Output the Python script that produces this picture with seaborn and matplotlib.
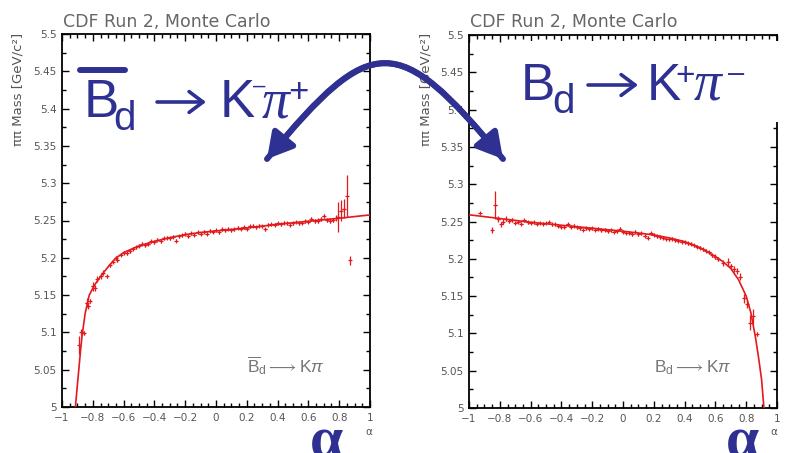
import matplotlib
matplotlib.use("Agg")
import matplotlib.pyplot as plt
import seaborn as sns
import pandas as pd
from matplotlib.ticker import MultipleLocator, FuncFormatter
from matplotlib.patches import FancyArrowPatch, Rectangle
from matplotlib.lines import Line2D
from matplotlib.path import Path

# ---------------- data ----------------
# left panel: anti-B_d -> K- pi+
left_x = [-0.89, -0.875, -0.86, -0.84, -0.83, -0.82, -0.80, -0.785, -0.77, -0.75, -0.735, -0.71,
          -0.69, -0.67, -0.65, -0.64, -0.62, -0.60, -0.58, -0.56, -0.54, -0.52, -0.50, -0.48,
          -0.46, -0.44, -0.42, -0.40, -0.38, -0.36, -0.34, -0.32, -0.30, -0.28, -0.26, -0.24,
          -0.22, -0.20, -0.18, -0.16, -0.14, -0.12, -0.10, -0.08, -0.06, -0.04, -0.02, 0.00,
          0.02, 0.04, 0.06, 0.08, 0.10, 0.12, 0.14, 0.16, 0.18, 0.20, 0.22, 0.24, 0.26, 0.28,
          0.30, 0.32, 0.34, 0.36, 0.38, 0.40, 0.42, 0.44, 0.46, 0.48, 0.50, 0.52, 0.54, 0.56,
          0.58, 0.60, 0.62, 0.64, 0.66, 0.68, 0.70, 0.72, 0.74, 0.76, 0.78, 0.79, 0.81, 0.83,
          0.85, 0.87]
left_y = [5.083, 5.100, 5.099, 5.140, 5.135, 5.142, 5.162, 5.160, 5.172, 5.175, 5.180, 5.175,
          5.190, 5.195, 5.200, 5.197, 5.204, 5.207, 5.206, 5.209, 5.212, 5.214, 5.216, 5.219,
          5.217, 5.219, 5.222, 5.221, 5.224, 5.222, 5.226, 5.227, 5.226, 5.228, 5.223, 5.229,
          5.230, 5.232, 5.229, 5.233, 5.231, 5.234, 5.232, 5.235, 5.232, 5.236, 5.235, 5.237,
          5.234, 5.238, 5.237, 5.239, 5.237, 5.238, 5.240, 5.239, 5.241, 5.239, 5.242, 5.243,
          5.241, 5.243, 5.242, 5.238, 5.244, 5.245, 5.244, 5.246, 5.245, 5.247, 5.246, 5.244,
          5.246, 5.248, 5.246, 5.247, 5.249, 5.248, 5.252, 5.249, 5.250, 5.252, 5.256, 5.251,
          5.250, 5.251, 5.254, 5.255, 5.263, 5.266, 5.283, 5.197]
left_err = [0.012, 0.004, 0.003, 0.006, 0.004, 0.003, 0.006, 0.004, 0.004, 0.004, 0.003, 0.002,
            0.002, 0.002, 0.003, 0.002, 0.002, 0.002, 0.002, 0.002, 0.002, 0.002, 0.002, 0.002,
            0.002, 0.002, 0.002, 0.002, 0.002, 0.002, 0.002, 0.002, 0.002, 0.002, 0.002, 0.002,
            0.002, 0.002, 0.002, 0.002, 0.002, 0.002, 0.002, 0.002, 0.002, 0.002, 0.002, 0.002,
            0.002, 0.002, 0.002, 0.002, 0.002, 0.002, 0.002, 0.002, 0.002, 0.002, 0.002, 0.002,
            0.002, 0.002, 0.002, 0.002, 0.002, 0.002, 0.002, 0.002, 0.002, 0.002, 0.002, 0.002,
            0.002, 0.002, 0.002, 0.002, 0.002, 0.002, 0.003, 0.003, 0.003, 0.003, 0.003, 0.003,
            0.003, 0.003, 0.004, 0.020, 0.014, 0.013, 0.028, 0.006]
left_fit_x = [-0.913, -0.90, -0.89, -0.88, -0.87, -0.85, -0.823, -0.79, -0.75, -0.70, -0.654,
              -0.60, -0.50, -0.40, -0.30, -0.20, -0.10, 0.00, 0.20, 0.40, 0.60, 0.80, 1.00]
left_fit_y = [5.000, 5.030, 5.052, 5.075, 5.095, 5.125, 5.150, 5.163, 5.175, 5.188, 5.199,
              5.207, 5.216, 5.222, 5.227, 5.231, 5.234, 5.236, 5.240, 5.245, 5.249, 5.253, 5.2575]

# right panel: B_d -> K+ pi-
right_x = [-0.93, -0.85, -0.83, -0.81, -0.79, -0.78, -0.76, -0.74, -0.72, -0.70, -0.68, -0.66,
           -0.64, -0.62, -0.60, -0.58, -0.56, -0.54, -0.52, -0.50, -0.48, -0.46, -0.44, -0.42,
           -0.40, -0.38, -0.36, -0.34, -0.32, -0.30, -0.28, -0.26, -0.24, -0.22, -0.20, -0.18,
           -0.16, -0.14, -0.12, -0.10, -0.08, -0.06, -0.04, -0.02, 0.00, 0.02, 0.04, 0.06,
           0.08, 0.10, 0.12, 0.14, 0.16, 0.18, 0.20, 0.22, 0.24, 0.26, 0.28, 0.30, 0.32, 0.34,
           0.36, 0.38, 0.40, 0.42, 0.44, 0.46, 0.48, 0.50, 0.52, 0.54, 0.56, 0.58, 0.60, 0.62,
           0.65, 0.685, 0.70, 0.718, 0.74, 0.761, 0.787, 0.805, 0.826, 0.844, 0.870]
right_y = [5.261, 5.239, 5.272, 5.253, 5.246, 5.250, 5.254, 5.251, 5.252, 5.248, 5.250, 5.247,
           5.252, 5.249, 5.248, 5.249, 5.247, 5.248, 5.247, 5.248, 5.249, 5.246, 5.246, 5.244,
           5.243, 5.243, 5.246, 5.243, 5.244, 5.242, 5.241, 5.239, 5.241, 5.240, 5.241, 5.239,
           5.240, 5.238, 5.239, 5.237, 5.238, 5.236, 5.237, 5.240, 5.236, 5.235, 5.235, 5.233,
           5.236, 5.233, 5.234, 5.231, 5.228, 5.234, 5.232, 5.230, 5.229, 5.228, 5.227, 5.226,
           5.227, 5.225, 5.224, 5.223, 5.222, 5.221, 5.220, 5.218, 5.216, 5.215, 5.213, 5.211,
           5.209, 5.205, 5.203, 5.200, 5.194, 5.196, 5.190, 5.186, 5.183, 5.176, 5.147, 5.139,
           5.114, 5.123, 5.099]
right_err = [0.001, 0.004, 0.019, 0.004, 0.004, 0.004, 0.003, 0.003, 0.003, 0.002, 0.002, 0.002,
             0.002, 0.002, 0.002, 0.002, 0.002, 0.002, 0.002, 0.002, 0.002, 0.002, 0.002, 0.002,
             0.002, 0.002, 0.002, 0.002, 0.002, 0.002, 0.002, 0.002, 0.002, 0.002, 0.002, 0.002,
             0.002, 0.002, 0.002, 0.002, 0.002, 0.002, 0.002, 0.002, 0.002, 0.002, 0.002, 0.002,
             0.002, 0.002, 0.002, 0.002, 0.002, 0.002, 0.002, 0.002, 0.002, 0.002, 0.002, 0.002,
             0.002, 0.002, 0.002, 0.002, 0.002, 0.002, 0.002, 0.002, 0.002, 0.002, 0.002, 0.002,
             0.002, 0.002, 0.003, 0.003, 0.004, 0.005, 0.003, 0.004, 0.004, 0.005, 0.006, 0.005,
             0.010, 0.010, 0.003]
right_fit_x = [-1.00, -0.80, -0.60, -0.40, -0.20, 0.00, 0.20, 0.30, 0.40, 0.50, 0.60, 0.65,
               0.70, 0.75, 0.80, 0.83, 0.86, 0.88, 0.90, 0.915]
right_fit_y = [5.259, 5.254, 5.249, 5.245, 5.241, 5.237, 5.232, 5.228, 5.223, 5.215, 5.203, 5.196,
               5.187, 5.172, 5.150, 5.128, 5.095, 5.068, 5.038, 5.000]

x_ticks = [-1, -0.8, -0.6, -0.4, -0.2, 0, 0.2, 0.4, 0.6, 0.8, 1]
y_ticks = [5, 5.05, 5.1, 5.15, 5.2, 5.25, 5.3, 5.35, 5.4, 5.45, 5.5]

title_text = "CDF Run 2, Monte Carlo"
ylabel_text = "\u03c0\u03c0 Mass [GeV/c\u00b2]"
small_left = r"$\overline{\mathrm{B}}_\mathrm{d}\longrightarrow\mathrm{K}\pi$"
small_right = r"$\mathrm{B}_\mathrm{d}\longrightarrow\mathrm{K}\pi$"

# ---------------- styling ----------------
sns.set_style("ticks")
plt.rcParams["font.family"] = ["DejaVu Sans"]
plt.rcParams["mathtext.fontset"] = "custom"
plt.rcParams["mathtext.rm"] = "Liberation Sans"
plt.rcParams["mathtext.it"] = "Liberation Sans:italic"
plt.rcParams["mathtext.bf"] = "Liberation Sans:bold"

RED = "#e3191c"
BLUE = "#2e3192"
GRAY = "#555555"
W, H = 809, 453


def fx(px):
    return px / W


def fy(py):
    return 1 - py / H


fig = plt.figure(figsize=(W / 100, H / 100), dpi=100)
axL = fig.add_axes([fx(62), fy(407), 308 / W, 373 / H])
axR = fig.add_axes([fx(469), fy(408), 308 / W, 373 / H])


def style(ax):
    ax.set_xlim(-1, 1)
    ax.set_ylim(5, 5.5)
    ax.set_xticks(x_ticks)
    ax.set_yticks(y_ticks)
    ax.xaxis.set_minor_locator(MultipleLocator(0.05))
    ax.yaxis.set_minor_locator(MultipleLocator(0.025))
    ax.xaxis.set_major_formatter(FuncFormatter(lambda v, p: f"{round(v, 2):g}".replace("-", "\u2212")))
    ax.yaxis.set_major_formatter(FuncFormatter(lambda v, p: f"{round(v, 3):g}"))
    ax.tick_params(which="both", direction="in", top=True, right=True, color="black",
                   labelcolor=GRAY, labelsize=7.5, width=1.0)
    ax.tick_params(which="major", length=5, pad=4)
    ax.tick_params(which="minor", length=2.8)
    for s in ax.spines.values():
        s.set_linewidth(1.3)
        s.set_color("black")
    ax.set_xlabel("")
    ax.set_ylabel("")


def draw(ax, x, y, e, fxv, fyv):
    pts = pd.DataFrame({"alpha": x, "mass": y, "err": e})
    fit = pd.DataFrame({"alpha": fxv, "mass": fyv})
    ax.errorbar(pts["alpha"], pts["mass"], yerr=pts["err"], xerr=0.009, fmt="none",
                ecolor=RED, elinewidth=0.9, capsize=0, zorder=2)
    sns.scatterplot(data=pts, x="alpha", y="mass", ax=ax, marker="+", color=RED, s=12,
                    linewidth=0.8, zorder=3, legend=False)
    sns.lineplot(data=fit, x="alpha", y="mass", ax=ax, color=RED, linewidth=1.2,
                 sort=False, estimator=None, zorder=4, legend=False)
    style(ax)


draw(axL, left_x, left_y, left_err, left_fit_x, left_fit_y)
draw(axR, right_x, right_y, right_err, right_fit_x, right_fit_y)

# titles, axis labels
for x0, yl in [(63, 18), (470, 426)]:
    fig.text(fx(x0), fy(27), title_text, fontsize=12.5, color="#666666", ha="left", va="baseline")
    fig.text(fx(yl), fy(33), ylabel_text, fontsize=9.5, color=GRAY, rotation=90,
             ha="center", va="top")

fig.text(fx(369), fy(432), "\u03b1", fontsize=7.5, color=GRAY, ha="center", va="center")
fig.text(fx(774), fy(432), "\u03b1", fontsize=7.5, color=GRAY, ha="center", va="center")

# gray in-plot labels
fig.text(fx(247), fy(372), small_left, fontsize=12.5, color="#777777", ha="left", va="baseline")
fig.text(fx(654), fy(372), small_right, fontsize=12.5, color="#777777", ha="left", va="baseline")

# white box hiding the right panel's upper right frame
fig.patches.append(Rectangle((fx(515), fy(122)), (790 - 515) / W, (122 - 41) / H,
                             transform=fig.transFigure, facecolor="white",
                             edgecolor="none", zorder=1))


# big blue annotations, set piece by piece
def piece(x, y, s, size, **kw):
    kw.setdefault("family", ["Liberation Sans"])
    fig.text(fx(x), fy(y), s, fontsize=size, color=BLUE, ha="left", va="baseline", zorder=3, **kw)


def small_arrow(x0, x1, y):
    fig.patches.append(FancyArrowPatch((fx(x0), fy(y)), (fx(x1), fy(y)),
                                       arrowstyle="->,head_length=1.0,head_width=0.75",
                                       mutation_scale=10, color=BLUE, linewidth=2.6,
                                       shrinkA=0, shrinkB=0, transform=fig.transFigure,
                                       zorder=3))


# left: anti-B_d -> K- pi+
fig.lines.append(Line2D([fx(80), fx(125)], [fy(70), fy(70)], color=BLUE, linewidth=4.3,
                        transform=fig.transFigure, zorder=3))
piece(84, 117, "B", 38)
piece(113, 130, "d", 29)
small_arrow(157, 206, 102)
piece(220, 117, "K", 38)
piece(253, 92, "\u2013", 16)
piece(262, 117, "\u03c0", 40, family=["Liberation Serif"], style="italic")
piece(288, 102, "+", 25)

# right: B_d -> K+ pi-
piece(521, 100, "B", 37)
piece(552, 113, "d", 29)
small_arrow(588, 638, 85)
piece(647, 100, "K", 37)
piece(675, 85, "+", 24)
piece(694, 100, "\u03c0", 40, family=["Liberation Serif"], style="italic")
piece(728, 82, "\u2013", 21)

fig.text(fx(327), fy(457), "\u03b1", fontsize=43, color=BLUE, ha="center", va="baseline",
         family=["Liberation Serif"], weight="bold", zorder=3)
fig.text(fx(743), fy(457), "\u03b1", fontsize=43, color=BLUE, ha="center", va="baseline",
         family=["Liberation Serif"], weight="bold", zorder=3)

# curved double arrow
verts = [(fx(267), fy(159)), (fx(372), fy(32)), (fx(398), fy(32)), (fx(503), fy(159))]
codes = [Path.MOVETO, Path.CURVE4, Path.CURVE4, Path.CURVE4]
for vv in (verts, verts[::-1]):
    fig.patches.append(FancyArrowPatch(path=Path(vv, codes),
                                       arrowstyle="-|>,head_length=1.5,head_width=0.85",
                                       mutation_scale=10, color=BLUE, linewidth=4.3,
                                       transform=fig.transFigure, zorder=4))

fig.savefig("out.png", dpi=100)
